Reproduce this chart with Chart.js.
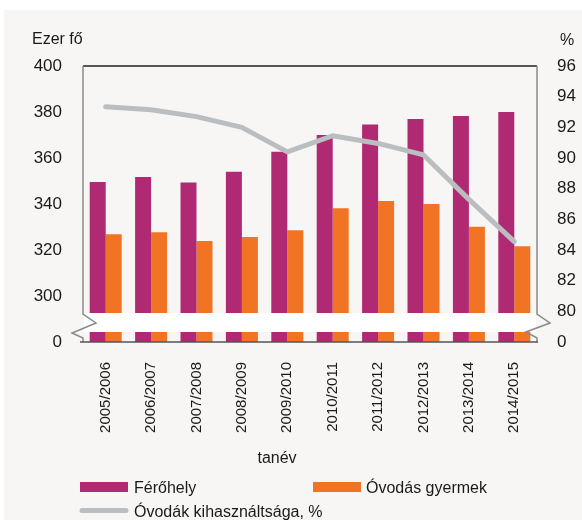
<!DOCTYPE html>
<html>
<head>
<meta charset="utf-8">
<script src="https://cdn.jsdelivr.net/npm/chart.js@4.4.1/dist/chart.umd.min.js"></script>
<style>
  html, body { margin: 0; padding: 0; background: #fff; overflow: hidden; }
  #wrap { position: relative; width: 582px; height: 520px; }
</style>
</head>
<body>
<div id="wrap"><canvas id="chart"></canvas></div>
<script>
const labels = ["2005/2006", "2006/2007", "2007/2008", "2008/2009", "2009/2010",
  "2010/2011", "2011/2012", "2012/2013", "2013/2014", "2014/2015"];
const ferohely = [349.6, 351.7, 349.3, 354.0, 362.7, 370.0, 374.6, 377.0, 378.3, 380.0];
const ovodasGyermek = [326.8, 327.7, 323.9, 325.7, 328.6, 338.1, 341.3, 340.0, 330.1, 321.6];
const kihasznaltsag = [93.35, 93.15, 92.7, 92.0, 90.4, 91.45, 90.95, 90.2, 87.3, 84.55];

// the lowest tick of each axis stands for the broken "0"
const leftBreak = 280;
const rightBreak = 78;

const FONT = "'Liberation Sans', Arial, sans-serif";
const MAGENTA = "#B02A73";
const ORANGE = "#F07424";
const GRAY = "#BBBEC0";

// background panel, break band, axis lines, titles and legend
const decor = {
  id: "decor",
  beforeDraw(chart) {
    const ctx = chart.ctx;
    ctx.save();
    ctx.fillStyle = "#F7F6F4";
    ctx.fillRect(4, 10, chart.width - 4, chart.height - 10);
    ctx.restore();
  },
  afterDatasetsDraw(chart) {
    const ctx = chart.ctx;
    const a = chart.chartArea;
    ctx.save();

    // white break band
    ctx.fillStyle = "#fff";
    ctx.fillRect(a.left + 1, 313, a.right - a.left - 2, 19);

    // top line
    ctx.strokeStyle = "#222";
    ctx.lineWidth = 1.5;
    ctx.beginPath();
    ctx.moveTo(a.left, a.top);
    ctx.lineTo(a.right, a.top);
    ctx.stroke();

    // left axis with zigzag
    ctx.strokeStyle = "#8a8a8a";
    ctx.beginPath();
    ctx.moveTo(a.left, a.top);
    ctx.lineTo(a.left, 314);
    ctx.lineTo(a.left + 13, 323);
    ctx.lineTo(a.left - 11, 333);
    ctx.lineTo(a.left, 338);
    ctx.lineTo(a.left, a.bottom);
    ctx.stroke();

    // right axis with zigzag
    ctx.beginPath();
    ctx.moveTo(a.right, a.top);
    ctx.lineTo(a.right, 314);
    ctx.lineTo(a.right + 13, 323);
    ctx.lineTo(a.right - 11, 332);
    ctx.lineTo(a.right, 338);
    ctx.lineTo(a.right, a.bottom);
    ctx.stroke();

    // bottom axis
    ctx.strokeStyle = "#555";
    ctx.beginPath();
    ctx.moveTo(a.left - 3, a.bottom);
    ctx.lineTo(a.right + 1, a.bottom);
    ctx.stroke();

    // titles
    ctx.fillStyle = "#1a1a1a";
    ctx.font = "16px " + FONT;
    ctx.textBaseline = "alphabetic";
    ctx.textAlign = "left";
    ctx.fillText("Ezer fő", 32, 43.5);
    ctx.fillText("%", 560, 45);
    ctx.textAlign = "center";
    ctx.fillText("tanév", 277, 463);

    // legend
    const ds = chart.data.datasets;
    ctx.textAlign = "left";
    ctx.fillStyle = ds[0].backgroundColor;
    ctx.fillRect(80, 482, 48, 10);
    ctx.fillStyle = ds[1].backgroundColor;
    ctx.fillRect(313, 482, 48, 10);
    ctx.strokeStyle = ds[2].borderColor;
    ctx.lineWidth = 5;
    ctx.lineCap = "round";
    ctx.beginPath();
    ctx.moveTo(82, 510.5);
    ctx.lineTo(126, 510.5);
    ctx.stroke();
    ctx.fillStyle = "#1a1a1a";
    ctx.fillText(ds[0].label, 134, 493);
    ctx.fillText(ds[1].label, 366, 493);
    ctx.fillText(ds[2].label, 134, 517);

    ctx.restore();
  }
};

new Chart(document.getElementById("chart"), {
  type: "bar",
  data: {
    labels: labels,
    datasets: [
      {
        label: "Férőhely",
        data: ferohely,
        backgroundColor: MAGENTA,
        yAxisID: "y",
        base: leftBreak,
        order: 1
      },
      {
        label: "Óvodás gyermek",
        data: ovodasGyermek,
        backgroundColor: ORANGE,
        yAxisID: "y",
        base: leftBreak,
        order: 1
      },
      {
        type: "line",
        label: "Óvodák kihasználtsága, %",
        data: kihasznaltsag,
        borderColor: GRAY,
        backgroundColor: GRAY,
        borderWidth: 5,
        borderCapStyle: "round",
        borderJoinStyle: "round",
        pointRadius: 0,
        tension: 0,
        yAxisID: "y1",
        order: 0
      }
    ]
  },
  options: {
    responsive: true,
    maintainAspectRatio: false,
    animation: false,
    datasets: {
      bar: { categoryPercentage: 0.705, barPercentage: 1.0 }
    },
    layout: { padding: { top: 66, left: 0, right: 0, bottom: 0 } },
    plugins: {
      legend: { display: false },
      tooltip: { enabled: false }
    },
    scales: {
      x: {
        grid: { display: false },
        border: { display: false },
        ticks: {
          minRotation: 90,
          maxRotation: 90,
          padding: 12,
          color: "#1a1a1a",
          font: { family: FONT, size: 15 }
        },
        afterFit(scale) { scale.height = 178; }
      },
      y: {
        position: "left",
        min: leftBreak,
        max: 400,
        grid: { display: false, drawTicks: false },
        border: { display: false },
        ticks: {
          stepSize: 20,
          padding: 21,
          color: "#1a1a1a",
          font: { family: FONT, size: 17 },
          callback: v => (v === leftBreak ? "0" : v)
        },
        afterFit(scale) { scale.width = 83; }
      },
      y1: {
        position: "right",
        min: rightBreak,
        max: 96,
        grid: { display: false, drawTicks: false },
        border: { display: false },
        ticks: {
          stepSize: 2,
          padding: 20,
          color: "#1a1a1a",
          font: { family: FONT, size: 17 },
          callback: v => (v === rightBreak ? "0" : v)
        },
        afterFit(scale) { scale.width = 45; }
      }
    }
  },
  plugins: [decor]
});
</script>
</body>
</html>
